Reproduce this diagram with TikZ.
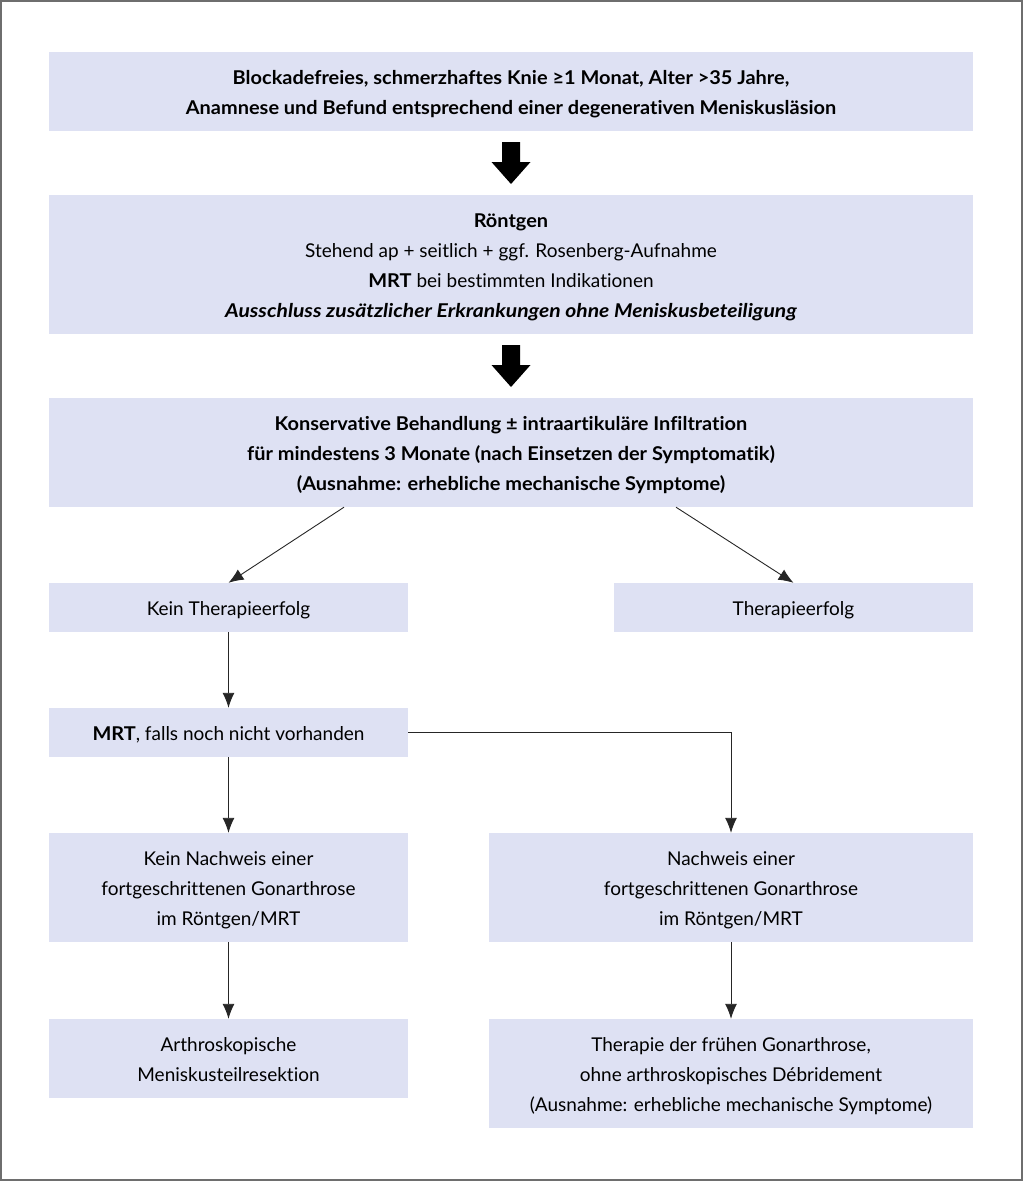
\documentclass[tikz,border=0pt]{standalone}
\usepackage{fontspec}
\setmainfont[Ligatures={NoCommon},
  BoldFeatures={FakeStretch=1.05},
  BoldItalicFeatures={FakeStretch=1.11}]{Lato}
\usetikzlibrary{arrows.meta}
\definecolor{boxblue}{RGB}{222,225,243}
\definecolor{framegray}{RGB}{110,110,110}

\begin{document}
\begin{tikzpicture}[x=1pt, y=-1pt, font=\fontsize{19}{30}\selectfont]
     \tikzstyle{boxnode}=[fill=boxblue, align=center, inner sep=0pt,
       minimum height=49pt, text height=22pt, text depth=6pt]
     \tikzstyle{twoline}=[minimum height=79pt, text height=52pt]
     \tikzstyle{threeline}=[minimum height=109pt, text height=82pt]
     \tikzstyle{fourline}=[minimum height=139pt, text height=112pt]
     \tikzstyle{widebox}=[boxnode, minimum width=924pt]
     \tikzstyle{leftbox}=[boxnode, minimum width=359pt]
     \tikzstyle{rightbox}=[boxnode, minimum width=484pt]
     \tikzstyle{conn}=[draw=black!85, line width=0.9pt, -{Latex[length=15pt,width=12pt]}]
     \useasboundingbox (0,0) rectangle (1024,1183);
     \draw[framegray, line width=1.6pt] (1,1) rectangle (1022,1180);
     % main column
     \node[widebox, twoline] (sympt) at (511,91.5)
      {\textbf{Blockadefreies, schmerzhaftes Knie ≥1 Monat, Alter >35 Jahre,}\\
       \textbf{Anamnese und Befund entsprechend einer degenerativen Meniskusläsion}};
     \node[widebox, fourline] (xray) at (511,264.5)
      {\textbf{Röntgen}\\
       Stehend ap + seitlich + ggf. Rosenberg-Aufnahme\\
       \textbf{MRT} bei bestimmten Indikationen\\
       \textbf{\textit{Ausschluss zusätzlicher Erkrankungen ohne Meniskusbeteiligung}}};
     \node[widebox, threeline] (conserv) at (511,452.5)
      {\textbf{Konservative Behandlung ± intraartikuläre Infiltration}\\
       \textbf{für mindestens 3 Monate (nach Einsetzen der Symptomatik)}\\
       \textbf{(Ausnahme: erhebliche mechanische Symptome)}};
     % branches
     \node[leftbox] (fail) at (228.5,607.5) {Kein Therapieerfolg};
     \node[leftbox] (success) at (793.5,607.5) {Therapieerfolg};
     \node[leftbox] (mri) at (228.5,732.5) {\textbf{MRT}, falls noch nicht vorhanden};
     \node[leftbox, threeline] (noarth) at (228.5,887.5)
      {Kein Nachweis einer\\ fortgeschrittenen Gonarthrose\\ im Röntgen/MRT};
     \node[rightbox, threeline] (arth) at (731,887.5)
      {Nachweis einer\\ fortgeschrittenen Gonarthrose\\ im Röntgen/MRT};
     \node[leftbox, twoline] (resect) at (228.5,1058.5)
      {Arthroskopische\\ Meniskusteilresektion};
     \node[rightbox, threeline] (early) at (731,1073.5)
      {Therapie der frühen Gonarthrose,\\ ohne arthroskopisches Débridement\\
       (Ausnahme: erhebliche mechanische Symptome)};
     % block arrows
     \foreach \a/\b in {sympt/xray, xray/conserv} {
      \path (\a.south) -- coordinate[midway] (mid-\a) (\b.north);
      \fill (mid-\a) ++(-9,-21) -- ++(18,0) -- ++(0,20) -- ++(10.5,0)
       -- ++(-19.5,22) -- ++(-19.5,-22) -- ++(10.5,0) -- cycle;
     }
     % connectors
     \draw[conn] ([xshift=-167pt]conserv.south) -- (fail.north);
     \draw[conn] ([xshift=165pt]conserv.south) -- (success.north);
     \draw[conn] (fail.south) -- (mri.north);
     \draw[conn] (mri.south) -- (noarth.north);
     \draw[conn] (mri.east) -| (arth.north);
     \draw[conn] (noarth.south) -- (resect.north);
     \draw[conn] (arth.south) -- (early.north);
\end{tikzpicture}
\end{document}
